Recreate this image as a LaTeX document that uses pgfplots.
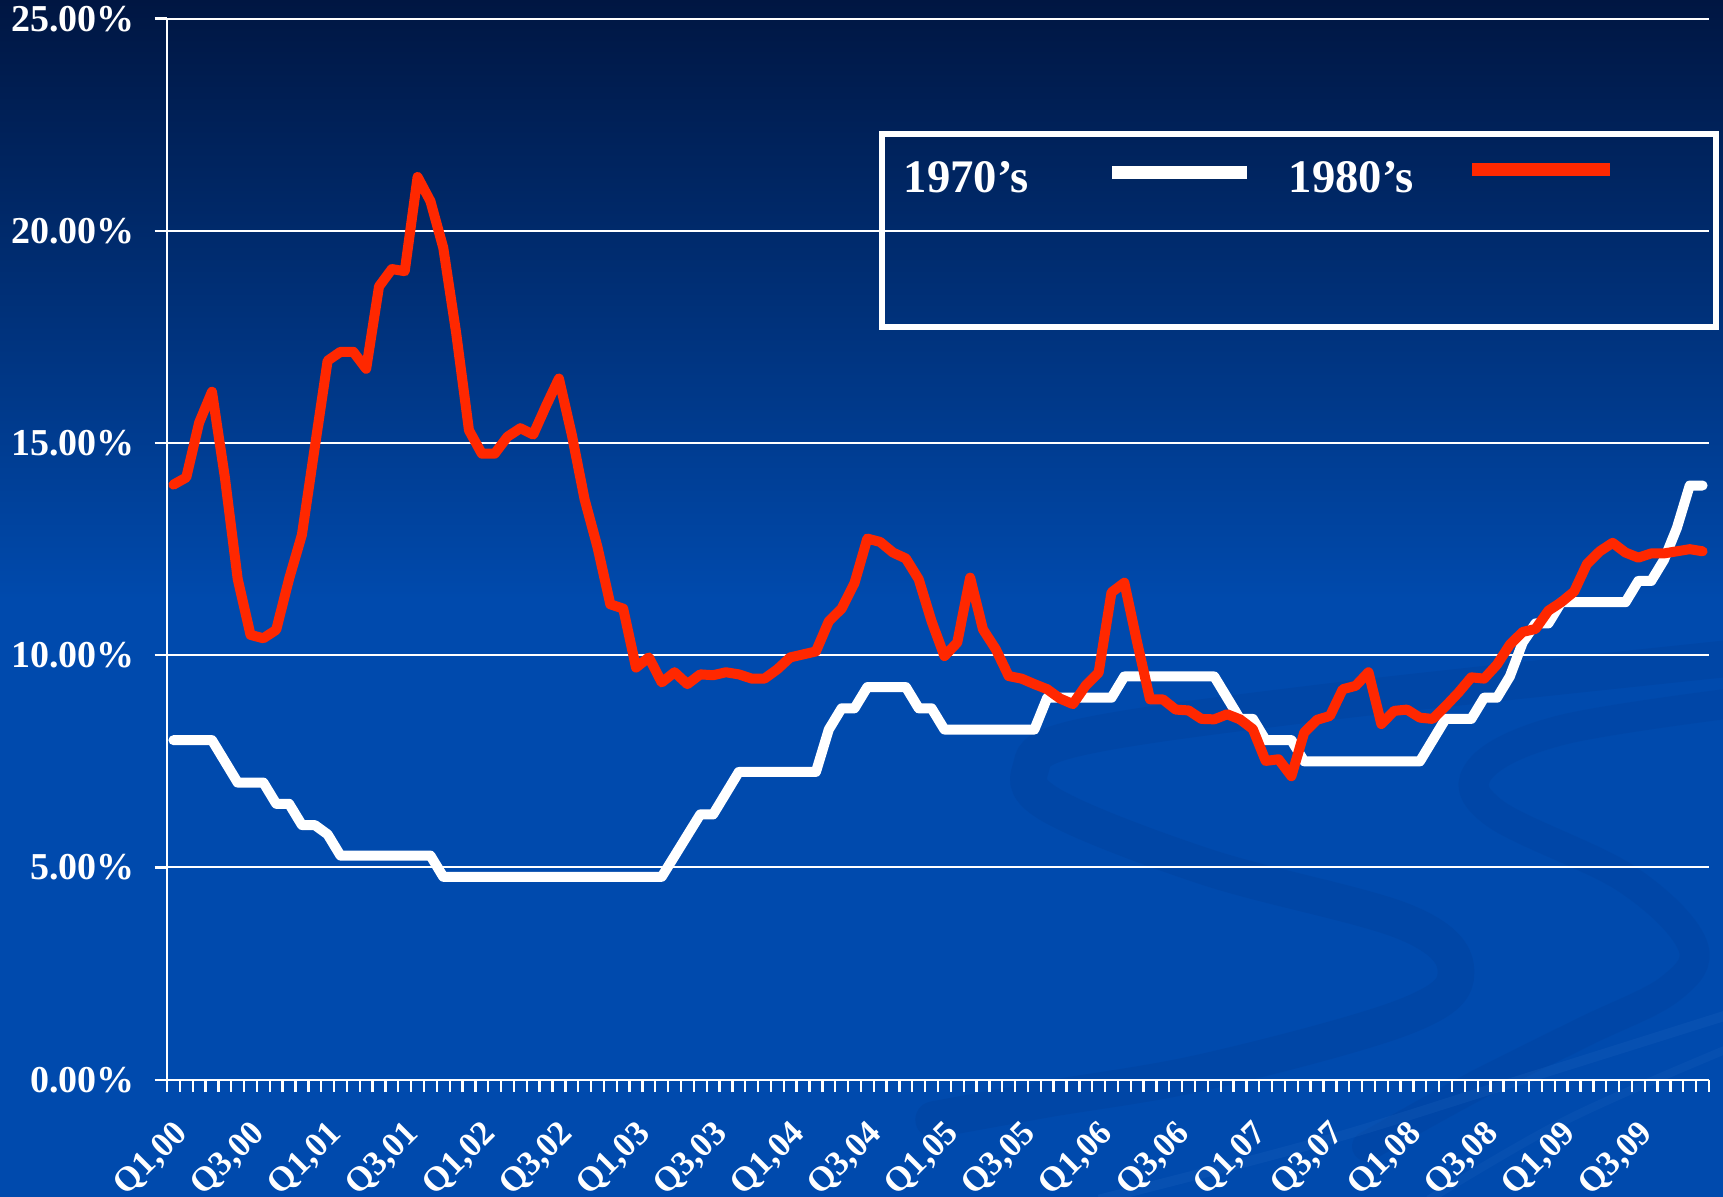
\documentclass[border=0pt]{standalone}
\usepackage{fontspec}
\setmainfont{Liberation Serif}
\usepackage{pgfplots}
\usepackage{pgfplotstable}
\pgfplotsset{compat=1.18}
\definecolor{bgdark}{RGB}{0,22,66}
\definecolor{bgblue}{RGB}{0,74,173}
\definecolor{swdark}{RGB}{0,62,150}
\definecolor{swlight}{RGB}{30,100,190}
\definecolor{redline}{RGB}{255,40,0}

\pgfplotstableread{
i r w
0 14.02 8.0
1 14.19 8.0
2 15.48 8.0
3 16.21 8.0
4 14.2 7.5
5 11.8 7.0
6 10.48 7.0
7 10.4 7.0
8 10.6 6.5
9 11.8 6.5
10 12.84 6.0
11 14.9 6.0
12 16.94 5.78
13 17.15 5.28
14 17.15 5.28
15 16.75 5.28
16 18.69 5.28
17 19.1 5.28
18 19.05 5.28
19 21.27 5.28
20 20.7 5.28
21 19.6 4.78
22 17.6 4.78
23 15.3 4.78
24 14.75 4.78
25 14.75 4.78
26 15.15 4.78
27 15.35 4.78
28 15.2 4.78
29 15.88 4.78
30 16.52 4.78
31 15.2 4.78
32 13.67 4.78
33 12.55 4.78
34 11.2 4.78
35 11.1 4.78
36 9.71 4.78
37 9.95 4.78
38 9.36 4.78
39 9.6 5.27
40 9.32 5.76
41 9.55 6.25
42 9.53 6.25
43 9.6 6.75
44 9.55 7.25
45 9.45 7.25
46 9.45 7.25
47 9.67 7.25
48 9.95 7.25
49 10.02 7.25
50 10.09 7.25
51 10.8 8.25
52 11.1 8.75
53 11.7 8.75
54 12.75 9.25
55 12.67 9.25
56 12.42 9.25
57 12.28 9.25
58 11.79 8.75
59 10.8 8.75
60 9.98 8.25
61 10.3 8.25
62 11.83 8.25
63 10.61 8.25
64 10.14 8.25
65 9.51 8.25
66 9.45 8.25
67 9.32 8.25
68 9.2 9.0
69 8.98 9.0
70 8.85 9.0
71 9.29 9.0
72 9.59 9.0
73 11.48 9.0
74 11.71 9.5
75 10.3 9.5
76 8.96 9.5
77 8.96 9.5
78 8.72 9.5
79 8.7 9.5
80 8.5 9.5
81 8.49 9.5
82 8.61 9.0
83 8.49 8.5
84 8.26 8.5
85 7.51 8.0
86 7.55 8.0
87 7.15 8.0
88 8.18 7.5
89 8.48 7.5
90 8.57 7.5
91 9.2 7.5
92 9.28 7.5
93 9.6 7.5
94 8.38 7.5
95 8.69 7.5
96 8.72 7.5
97 8.53 7.5
98 8.5 8.0
99 8.8 8.5
100 9.12 8.5
101 9.48 8.5
102 9.45 9.0
103 9.78 9.0
104 10.25 9.5
105 10.55 10.3
106 10.62 10.75
107 11.05 10.75
108 11.25 11.25
109 11.5 11.25
110 12.15 11.25
111 12.45 11.25
112 12.65 11.25
113 12.42 11.25
114 12.3 11.75
115 12.4 11.75
116 12.4 12.25
117 12.45 13.0
118 12.5 14.0
119 12.45 14.0
}\ratetable

\begin{document}
\begin{tikzpicture}
% background
\fill[bgblue] (-50.1pt,-35.1pt) rectangle (466.8pt,323.9pt);
\shade[top color=bgdark, bottom color=bgblue] (-50.1pt,144pt) rectangle (466.8pt,323.9pt);
% decorative swooshes
\begin{scope}
\clip (-50.1pt,-35.1pt) rectangle (466.8pt,323.9pt);
\draw[swdark, opacity=0.3, line width=11pt, line cap=round] plot[smooth, tension=0.6] coordinates {
 (470pt,126.5pt) (345.5pt,113pt) (273pt,102.5pt) (259pt,93pt) (266.4pt,81.7pt) (312.5pt,63.6pt) (371.9pt,47.1pt) (386.7pt,32.2pt) (371.9pt,19.1pt) (312.5pt,2.6pt) (263pt,-6pt) (230pt,-12pt)};
\draw[swdark, opacity=0.25, line width=9pt, line cap=round] plot[smooth, tension=0.6] coordinates {
 (470pt,113pt) (418pt,104.8pt) (394pt,93.2pt) (398.2pt,80pt) (437.8pt,60.3pt) (457.6pt,40.5pt) (451pt,27.3pt) (424.6pt,14.1pt) (391.6pt,-2.4pt) (360pt,-20pt)};
\draw[swlight, opacity=0.25, line width=3pt] plot[smooth, tension=0.6] coordinates {
 (470pt,20pt) (400pt,-2pt) (345.5pt,-18.8pt) (279.6pt,-36pt)};
\draw[swlight, opacity=0.2, line width=2.5pt] plot[smooth, tension=0.6] coordinates {
 (470pt,10pt) (420pt,-12pt) (378.5pt,-36pt)};
\end{scope}

\begin{axis}[
  at={(0pt,0pt)}, anchor=south west,
  scale only axis, width=462.6pt, height=318.3pt,
  xmin=0, xmax=120, ymin=0, ymax=25,
  axis lines*=left,
  axis line style={white, line width=0.7pt},
  every tick/.style={white, line width=0.7pt},
  tick align=outside,
  major tick length=3.7pt,
  ytick={0,5,...,25},
  yticklabels={0.00\%,5.00\%,10.00\%,15.00\%,20.00\%,25.00\%},
  ymajorgrids,
  grid style={white, line width=0.6pt},
  xtick={0,1,...,120},
  xticklabels={},
  extra x ticks={0.5,6.5,...,114.5},
  extra x tick labels={{Q1,00},{Q3,00},{Q1,01},{Q3,01},{Q1,02},{Q3,02},{Q1,03},{Q3,03},{Q1,04},{Q3,04},{Q1,05},{Q3,05},{Q1,06},{Q3,06},{Q1,07},{Q3,07},{Q1,08},{Q3,08},{Q1,09},{Q3,09}},
  extra x tick style={major tick length=0pt, tick style={draw=none}},
  yticklabel style={text=white, font=\bfseries\fontsize{11.4}{13}\selectfont, anchor=east, xshift=-2.4pt},
  xticklabel style={text=white, font=\bfseries\fontsize{10.4}{12}\selectfont, inner sep=0pt, xshift=-0.3pt, yshift=-11.4pt, rotate=45, anchor=north east},
]
\addplot[white, line width=3pt, line join=round, line cap=round] table[x expr=\thisrow{i}+0.5, y=w] {\ratetable};
\addplot[redline, line width=3pt, line join=round, line cap=round] table[x expr=\thisrow{i}+0.5, y=r] {\ratetable};
\end{axis}

% legend
\draw[white, line width=1.8pt] (214.5pt,225.9pt) rectangle (464.7pt,283.8pt);
\node[anchor=west, inner sep=0pt, text=white, font=\bfseries\fontsize{14}{16}\selectfont] at (220.8pt,270.6pt) {1970’s};
\draw[white, line width=4pt] (283.5pt,272.2pt) -- (324pt,272.2pt);
\node[anchor=west, inner sep=0pt, text=white, font=\bfseries\fontsize{14}{16}\selectfont] at (336.3pt,270.6pt) {1980’s};
\draw[redline, line width=4pt] (391.5pt,273pt) -- (432.9pt,273pt);

\pgfresetboundingbox
\path[use as bounding box] (-50.1pt,-35.1pt) rectangle (466.8pt,323.9pt);
\end{tikzpicture}
\end{document}
